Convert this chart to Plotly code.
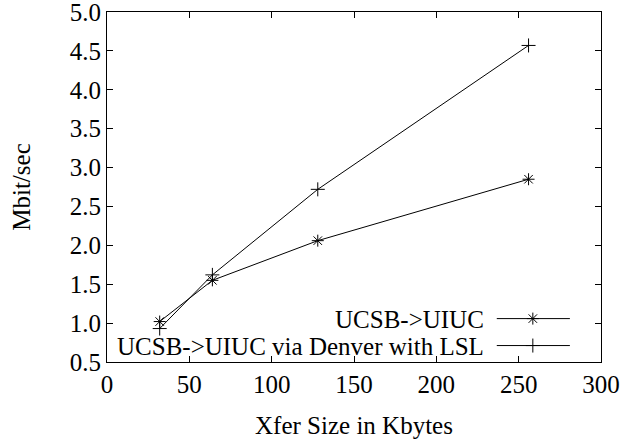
import plotly.graph_objects as go

# Transfer sizes (KB) and measured throughput (Mbit/s)
xfer_kb = [32, 64, 128, 256]
direct_mbps = [1.02, 1.55, 2.06, 2.85]
lsl_mbps = [0.93, 1.62, 2.72, 4.57]

series_names = ["UCSB-&gt;UIUC", "UCSB-&gt;UIUC via Denver with LSL"]
series_symbols = ["asterisk-open", "cross-thin-open"]

x_ticks = [0, 50, 100, 150, 200, 250, 300]
y_ticks = [0.5, 1.0, 1.5, 2.0, 2.5, 3.0, 3.5, 4.0, 4.5, 5.0]

FONT = "'Times New Roman', 'Liberation Serif', Times, serif"
FSIZE = 25
BLACK = "#000000"

fig = go.Figure()

for name, ys, sym in zip(series_names, [direct_mbps, lsl_mbps], series_symbols):
    fig.add_trace(go.Scatter(
        x=xfer_kb, y=ys, mode="lines+markers", name=name,
        line=dict(color=BLACK, width=1),
        marker=dict(symbol=sym, size=10, color=BLACK, line=dict(color=BLACK, width=1)),
        showlegend=False,
    ))

# Key in the lower-right corner: label on the left, line sample on the right
key_rows_y = [0.124, 0.047]
key_line_x = [0.789, 0.937]
key_mark_x = 0.862
for name, sym, ky in zip(series_names, series_symbols, key_rows_y):
    fig.add_shape(type="line", xref="paper", yref="paper",
                  x0=key_line_x[0], x1=key_line_x[1], y0=ky, y1=ky,
                  line=dict(color=BLACK, width=1))
    fig.add_annotation(x=0.765, y=ky, xref="paper", yref="paper", text=name,
                       showarrow=False, xanchor="right", yanchor="middle",
                       height=22, valign="middle", borderpad=0,
                       font=dict(family=FONT, size=FSIZE, color=BLACK))
    fig.add_trace(go.Scatter(
        x=[key_mark_x], y=[ky], xaxis="x2", yaxis="y2", mode="markers",
        marker=dict(symbol=sym, size=10, color=BLACK, line=dict(color=BLACK, width=1)),
        showlegend=False, hoverinfo="skip",
    ))

axis_common = dict(
    showgrid=False, zeroline=False, showline=True, linecolor=BLACK, linewidth=1,
    mirror="ticks", ticks="inside", ticklen=6, tickcolor=BLACK, tickwidth=1,
    tickfont=dict(family=FONT, size=FSIZE, color=BLACK), automargin=False,
    ticklabeloverflow="allow",
)

fig.update_layout(
    width=623, height=443,
    margin=dict(l=107, r=22, t=12, b=81),
    paper_bgcolor="white", plot_bgcolor="white",
    font=dict(family=FONT, size=FSIZE, color=BLACK),
    xaxis=dict(range=[0, 300], tickvals=x_ticks, ticktext=[str(v) for v in x_ticks],
               title=dict(text="Xfer Size in Kbytes", standoff=19,
                          font=dict(family=FONT, size=FSIZE, color=BLACK)),
               **axis_common),
    yaxis=dict(range=[0.5, 5.0], tickvals=y_ticks, ticktext=[f"{v:.1f}" for v in y_ticks],
               title=dict(text="Mbit/sec", standoff=32,
                          font=dict(family=FONT, size=FSIZE, color=BLACK)),
               **axis_common),
    xaxis2=dict(range=[0, 1], overlaying="x", visible=False, fixedrange=True),
    yaxis2=dict(range=[0, 1], overlaying="y", visible=False, fixedrange=True),
    showlegend=False,
)

fig.write_html("out.html")
